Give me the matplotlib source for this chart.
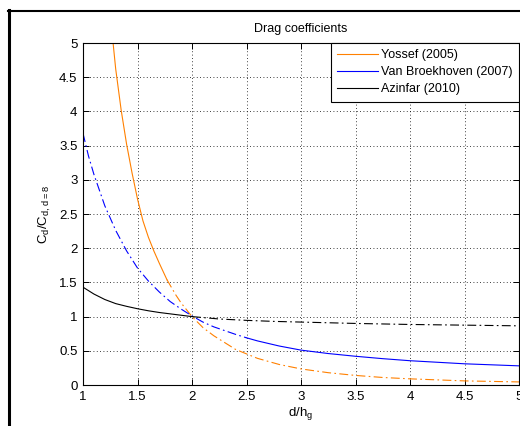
import matplotlib
matplotlib.use("Agg")
import matplotlib.pyplot as plt
import numpy as np
from matplotlib.lines import Line2D
from matplotlib.ticker import FuncFormatter

plt.rcParams['font.family'] = ['Liberation Sans', 'DejaVu Sans']
plt.rcParams['mathtext.fontset'] = 'custom'
plt.rcParams['mathtext.rm'] = 'Liberation Sans'

# ---- data ----
yossef_x = [1.276, 1.30, 1.35, 1.40, 1.45, 1.50, 1.55, 1.60, 1.65, 1.70, 1.77, 1.85, 1.90, 1.95,
            2.00, 2.10, 2.20, 2.40, 2.60, 2.80, 3.00, 3.25, 3.50, 3.75, 4.00, 4.50, 5.00]
yossef_y = [5.0, 4.62, 4.02, 3.52, 3.10, 2.72, 2.40, 2.16, 1.96, 1.78, 1.54, 1.32, 1.20, 1.10,
            1.0, 0.84, 0.72, 0.52, 0.39, 0.30, 0.235, 0.18, 0.14, 0.11, 0.09, 0.06, 0.045]
yossef_valid_max = 1.77

vanb_x = [1.0, 1.05, 1.1, 1.2, 1.3, 1.4, 1.5, 1.6, 1.7, 1.8, 1.9, 2.0, 2.1, 2.2,
          2.4, 2.5, 2.6, 2.8, 3.0, 3.25, 3.5, 3.75, 4.0, 4.5, 5.0]
vanb_y = [3.68, 3.35, 3.08, 2.62, 2.26, 1.96, 1.71, 1.52, 1.36, 1.22, 1.11, 1.01, 0.92, 0.85,
          0.74, 0.69, 0.645, 0.57, 0.51, 0.46, 0.42, 0.385, 0.355, 0.31, 0.28]
vanb_valid_min = 2.5

azin_x = [1.0, 1.1, 1.2, 1.3, 1.4, 1.5, 1.6, 1.7, 1.8, 1.9, 2.0,
          2.25, 2.5, 2.75, 3.0, 3.5, 4.0, 4.5, 5.0]
azin_y = [1.43, 1.33, 1.25, 1.19, 1.15, 1.115, 1.085, 1.06, 1.04, 1.02, 1.0,
          0.965, 0.945, 0.93, 0.92, 0.90, 0.885, 0.875, 0.865]
azin_valid_max = 2.0

labels = ['Yossef (2005)', 'Van Broekhoven (2007)', 'Azinfar (2010)']
xticks = [1, 1.5, 2, 2.5, 3, 3.5, 4, 4.5, 5]
yticks = [0, 0.5, 1, 1.5, 2, 2.5, 3, 3.5, 4, 4.5, 5]

orange = '#FF8000'
blue = '#0000FF'
black = '#000000'
dashdot = (0, (8, 3, 1.5, 3))
lw = 0.8

fig = plt.figure(figsize=(5.2, 4.26), dpi=100)
fig.patch.set_facecolor('white')
W, H = 520, 426
ax = fig.add_axes([83 / W, 1 - 385 / H, (519 - 83) / W, (385 - 43) / H])

def split_plot(x, y, thr, color, label, solid_first=True):
    x = np.asarray(x); y = np.asarray(y)
    lo = x <= thr
    hi = x >= thr
    if solid_first:
        h, = ax.plot(x[lo], y[lo], color=color, lw=lw, ls='-', label=label)
        ax.plot(x[hi], y[hi], color=color, lw=lw, ls=dashdot)
    else:
        ax.plot(x[lo], y[lo], color=color, lw=lw, ls=dashdot)
        h, = ax.plot(x[hi], y[hi], color=color, lw=lw, ls='-', label=label)
    return h

h1 = split_plot(yossef_x, yossef_y, yossef_valid_max, orange, labels[0], True)
h2 = split_plot(vanb_x, vanb_y, vanb_valid_min, blue, labels[1], False)
h3 = split_plot(azin_x, azin_y, azin_valid_max, black, labels[2], True)

ax.set_xlim(1, 5)
ax.set_ylim(0, 5)
ax.set_xticks(xticks)
ax.set_yticks(yticks)
fmt = FuncFormatter(lambda v, p: '%g' % v)
ax.xaxis.set_major_formatter(fmt)
ax.yaxis.set_major_formatter(fmt)
ax.tick_params(direction='in', length=4, width=0.7, top=True, right=True,
               labelsize=9.5, pad=4, colors='black')
ax.grid(True, color='black', lw=0.6, ls=(0, (1, 3)))
for s in ax.spines.values():
    s.set_linewidth(0.8)
    s.set_color('black')

ax.set_title('Drag coefficients', fontsize=9, pad=8)
ax.set_xlabel(r'd/h$_\mathrm{g}$', fontsize=9.5, labelpad=2)
ax.set_ylabel(r'C$_\mathrm{d}$/C$_\mathrm{d,d=8}$', fontsize=9.5, labelpad=4)

leg = ax.legend(handles=[h1, h2, h3], loc='upper right', fontsize=9,
                fancybox=False, framealpha=1, edgecolor='black',
                borderaxespad=0, handlelength=3.3, handletextpad=0.25,
                labelspacing=0.4, borderpad=0.5, handleheight=0.7)
leg.get_frame().set_linewidth(0.8)

# window frame lines
fig.add_artist(Line2D([8.7 / W, 8.7 / W], [0, 1 - 10 / H], transform=fig.transFigure,
                      color='black', lw=2.2))
fig.add_artist(Line2D([7.5 / W, 1], [1 - 11 / H, 1 - 11 / H], transform=fig.transFigure,
                      color='black', lw=1.5))

fig.savefig('out.png', dpi=100, facecolor='white')
